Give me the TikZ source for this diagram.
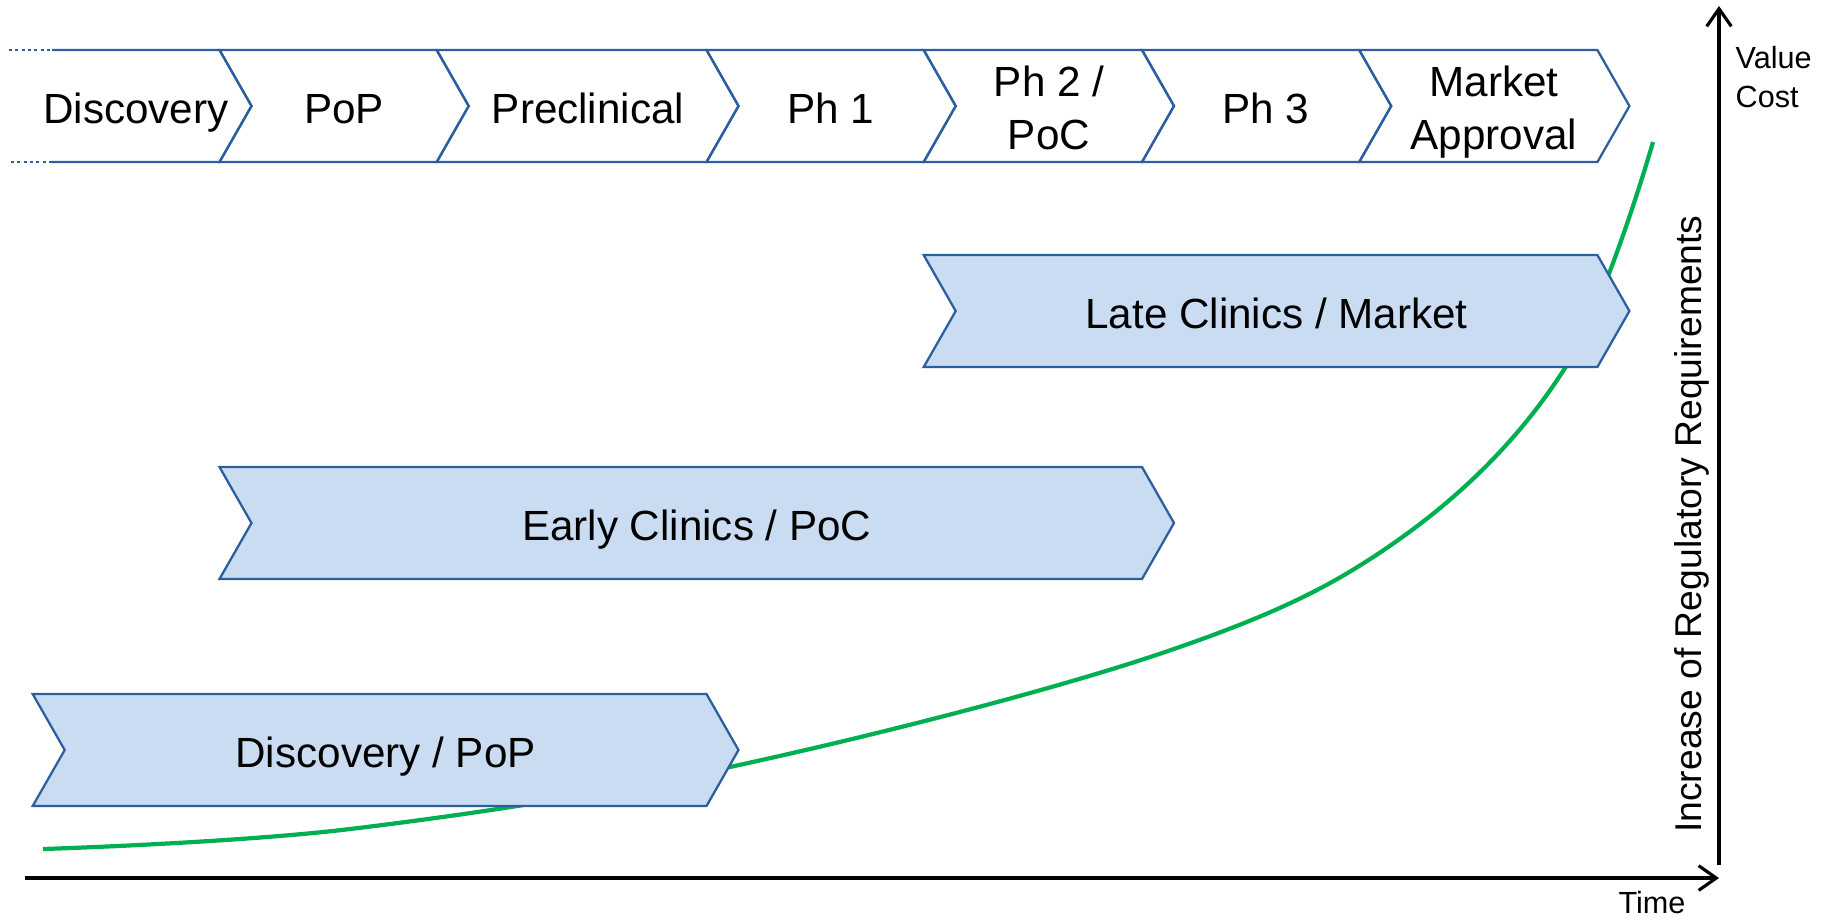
\documentclass[tikz,border=0pt]{standalone}
\usepackage{fontspec}
\setmainfont{Liberation Sans}
\usepackage{tikz}
\usetikzlibrary{arrows.meta}
\usetikzlibrary{calc}
\definecolor{stageblue}{RGB}{44,95,160}
\definecolor{stagefill}{RGB}{201,220,241}
\definecolor{curvegreen}{RGB}{0,176,80}
\tikzstyle{stage}=[draw=stageblue,line width=0.65pt]
\tikzstyle{band}=[draw=stageblue,fill=stagefill,line width=0.65pt]
\tikzstyle{stagetext}=[font=\fontsize{12}{15}\selectfont,inner sep=0pt,text height=12.2pt,text depth=2.54pt]
\tikzstyle{stagetwo}=[font=\fontsize{12}{15}\selectfont,align=center,inner sep=0pt]
\tikzstyle{axisline}=[draw,line width=0.9pt,-{Straight Barb[length=5pt,width=7pt]}]
\tikzstyle{smalltext}=[font=\fontsize{8.7}{11}\selectfont,inner sep=0pt]
\tikzstyle{growth}=[draw=curvegreen,line width=1.2pt]

\begin{document}
\begin{tikzpicture}[x=0.01cm, y=-0.01cm]
    \useasboundingbox (0,0) rectangle (1831,917);
    % tip depth of every chevron
    \def\tip{32}

    % First the green curve, it stays behind the bands
    \draw[growth] plot[smooth, tension=0.6] coordinates {(43,849) (350,829) (739,765) (1168,651) (1401,538) (1565,368) (1653,142)};

    % The row of stages on top
    \draw[stage, dash pattern=on 0.9pt off 0.9pt] (9,50) -- (52,50);
    \draw[stage, dash pattern=on 0.9pt off 0.9pt] (11,162) -- (52,162);
    \draw[stage] (52,50) -- (219.5,50) -- (219.5+\tip,106) -- (219.5,162) -- (52,162);
    \foreach \xa/\xb in {219.5/436.7, 436.7/706.5, 706.5/923.7, 923.7/1142, 1142/1359.2, 1359.2/1597.4}
        \draw[stage] (\xa,50) -- (\xb,50) -- (\xb+\tip,106) -- (\xb,162) -- (\xa,162) -- (\xa+\tip,106) -- cycle;

    \foreach \pos/\name/\txt in {{(136,106)/discovery/Discovery}, {(344,106)/pop/PoP}, {(588,106)/preclin/Preclinical}, {(831,106)/phone/Ph 1}, {(1266,106)/phthree/Ph 3}}
        \node[stagetext] (\name) at \pos {\txt};
    \node[stagetwo] (phtwo) at (1049,108) {Ph 2 /\\PoC};
    \node[stagetwo] (approval) at (1494,112) {Market\\Approval};

    % Bands of the three phases
    \foreach \xa/\xb/\yt/\name/\txt in {923.7/1597.4/255/late/{Late Clinics / Market}, 219.5/1142/467/early/{Early Clinics / PoC}, 32.7/706.5/694/discpop/{Discovery / PoP}}
    {
        \draw[band] (\xa,\yt) -- (\xb,\yt) -- (\xb+\tip,\yt+56) -- (\xb,\yt+112) -- (\xa,\yt+112) -- (\xa+\tip,\yt+56) -- cycle;
        \node[stagetext] (\name) at ({(\xa+\tip+\xb)/2},\yt+56) {\txt};
    }

    % Axes
    \coordinate (origin) at (25,878);
    \coordinate (tend) at (1719,878);
    \coordinate (ybase) at (1719,865);
    \coordinate (ytop) at (1719,6);
    \draw[axisline] (origin) -- (tend);
    \draw[axisline] (ybase) -- (ytop);

    \node[smalltext, anchor=west, align=left] (valuecost) at (1735,77) {Value\\Cost};
    \node[smalltext] (time) at (1652,903) {Time};
    \node[font=\fontsize{10.6}{12}\selectfont, inner sep=0pt, rotate=90] (regul) at (1692,524) {Increase of Regulatory Requirements};
\end{tikzpicture}
\end{document}
